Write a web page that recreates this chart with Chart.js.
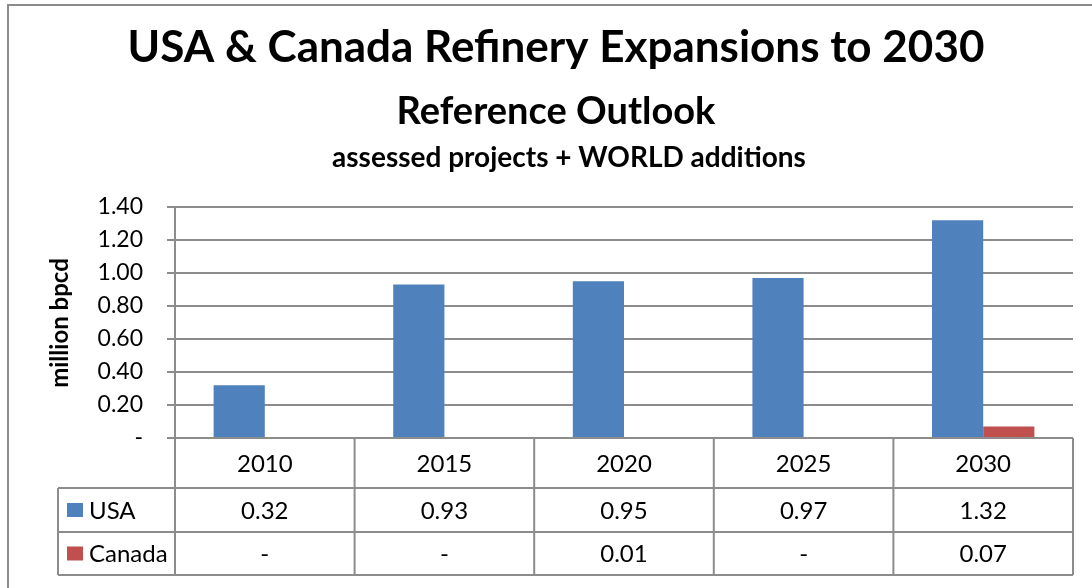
<!DOCTYPE html>
<html>
<head>
<meta charset="utf-8">
<script src="https://cdn.jsdelivr.net/npm/chart.js@4"></script>
<style>
  html, body { margin: 0; padding: 0; background: #fff; }
  #wrap { width: 1092px; height: 588px; position: relative; }
</style>
</head>
<body>
<div id="wrap"><canvas id="refineryChart"></canvas></div>
<script>
const years = ["2010", "2015", "2020", "2025", "2030"];
const usaValues = [0.32, 0.93, 0.95, 0.97, 1.32];
const canadaValues = [0, 0, 0.006, 0, 0.07];
const seriesNames = ["USA", "Canada"];
const seriesColors = ["#4f81bd", "#c0504d"];

const FONT = "Lato, 'Noto Sans', sans-serif";
const lineColor = "#8c8c8c";

function fmt(v) {
  return v === 0 ? "-" : v.toFixed(2);
}

// titles, outer frame, axis title and the data table under the plot
const tablePlugin = {
  id: "excelTable",
  beforeDraw(chart) {
    const ctx = chart.ctx;
    ctx.save();
    ctx.strokeStyle = lineColor;
    ctx.lineWidth = 2;
    ctx.beginPath();
    ctx.moveTo(8, 588);
    ctx.lineTo(8, 5);
    ctx.lineTo(1092, 5);
    ctx.stroke();
    ctx.restore();
  },
  afterDraw(chart) {
    const ctx = chart.ctx;
    const x = chart.scales.x;
    const area = chart.chartArea;
    const catW = (area.right - area.left) / years.length;
    const rows = [area.bottom, 488, 532, 575];
    const legendLeft = 58;

    ctx.save();
    ctx.fillStyle = "#000";
    ctx.textAlign = "center";
    ctx.textBaseline = "middle";
    ctx.font = "bold 44px " + FONT;
    ctx.fillText("USA & Canada Refinery Expansions to 2030", 556, 48);
    ctx.font = "bold 38px " + FONT;
    ctx.fillText("Reference Outlook", 556, 112);
    ctx.font = "bold 28px " + FONT;
    ctx.fillText("assessed projects + WORLD additions", 569, 158);

    // y axis title
    ctx.save();
    ctx.translate(60, 323);
    ctx.rotate(-Math.PI / 2);
    ctx.font = "bold 24px " + FONT;
    ctx.fillText("million bpcd", 0, 0);
    ctx.restore();

    // table grid
    ctx.strokeStyle = lineColor;
    ctx.lineWidth = 2;
    ctx.beginPath();
    ctx.moveTo(area.left, rows[0]);
    ctx.lineTo(area.right, rows[0]);
    for (let r = 1; r < rows.length; r++) {
      ctx.moveTo(legendLeft, rows[r]);
      ctx.lineTo(area.right, rows[r]);
    }
    for (let i = 0; i <= years.length; i++) {
      const lx = area.left + i * catW;
      ctx.moveTo(lx, rows[0]);
      ctx.lineTo(lx, rows[3]);
    }
    ctx.moveTo(legendLeft, rows[1]);
    ctx.lineTo(legendLeft, rows[3]);
    ctx.stroke();

    // table text
    ctx.font = "24px " + FONT;
    ctx.fillStyle = "#000";
    const series = [usaValues, canadaValues];
    years.forEach((yr, i) => {
      const cx = x.getPixelForValue(i);
      ctx.fillText(yr, cx, (rows[0] + rows[1]) / 2 + 1);
      series.forEach((vals, s) => {
        ctx.fillText(fmt(vals[i]), cx, (rows[s + 1] + rows[s + 2]) / 2 + 1);
      });
    });

    // legend keys
    ctx.textAlign = "left";
    seriesNames.forEach((name, s) => {
      const my = (rows[s + 1] + rows[s + 2]) / 2;
      ctx.fillStyle = seriesColors[s];
      ctx.fillRect(67, my - 7, 16, 14);
      ctx.fillStyle = "#000";
      ctx.fillText(name, 89, my + 1);
    });
    ctx.restore();
  }
};

new Chart(document.getElementById("refineryChart"), {
  type: "bar",
  data: {
    labels: years,
    datasets: [
      {
        label: seriesNames[0],
        data: usaValues,
        backgroundColor: seriesColors[0],
        categoryPercentage: 0.57,
        barPercentage: 1
      },
      {
        label: seriesNames[1],
        data: canadaValues,
        backgroundColor: seriesColors[1],
        categoryPercentage: 0.57,
        barPercentage: 1
      }
    ]
  },
  options: {
    responsive: true,
    maintainAspectRatio: false,
    animation: false,
    layout: { padding: { top: 207, right: 19, bottom: 150, left: 0 } },
    plugins: {
      legend: { display: false },
      title: { display: false },
      tooltip: { enabled: false }
    },
    scales: {
      x: {
        grid: { display: false },
        border: { display: false },
        ticks: { display: false },
        afterFit(scale) { scale.height = 0; }
      },
      y: {
        min: 0,
        max: 1.4,
        afterFit(scale) { scale.width = 175; },
        ticks: {
          stepSize: 0.2,
          padding: 24,
          color: "#000",
          font: { family: FONT, size: 23 },
          callback: (v) => fmt(v)
        },
        grid: { color: lineColor, lineWidth: 2, tickLength: 8 },
        border: { color: lineColor, width: 2 }
      }
    }
  },
  plugins: [tablePlugin]
});
</script>
</body>
</html>
